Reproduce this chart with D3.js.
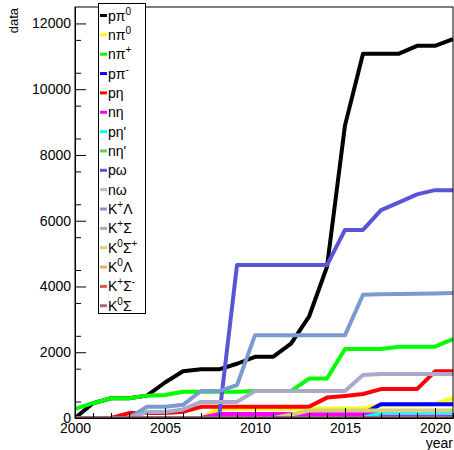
<!DOCTYPE html>
<head>
    <meta http-equiv="Content-Type" content="text/html; charset=UTF-8">
    <title>data vs year</title>
    <style type="text/css">
        html, body {
            margin: 0;
            padding: 0;
            background: #ffffff;
        }

        svg text {
            font-family: "Liberation Sans", Arial, Helvetica, sans-serif;
        }
    </style>
</head>
<body>
    <div id="chart"></div>
    <script src="https://cdn.jsdelivr.net/npm/d3@7/dist/d3.min.js" charset="utf-8"></script>
    <script>
        // years on the x axis
        var years = d3.range(2000, 2022);

        // legend labels, ^{..} marks a superscript
        var labels = ["pπ^{0}", "nπ^{0}", "nπ^{+}", "pπ^{-}", "pη", "nη", "pη'", "nη'",
            "pω", "nω", "K^{+}Λ", "K^{+}Σ", "K^{0}Σ^{+}", "K^{0}Λ", "K^{+}Σ^{-}", "K^{0}Σ"];

        var colors = ["#000000", "#ffff00", "#00ff00", "#0000ff", "#ff0000", "#ff00ff", "#00ffff", "#59d454",
            "#5954d8", "#c6b9ab", "#7d99d1", "#a9a9c9", "#d4d07a", "#dfb176", "#cf5e61", "#9a6f74"];

        // values per year, 2000 .. 2021
        var pPi0   = [0, 450, 600, 600, 680, 1080, 1420, 1480, 1480, 1650, 1860, 1860, 2260, 3080, 4600, 8900, 11080, 11080, 11080, 11320, 11320, 11520];
        var nPi0   = [0, 0, 0, 0, 0, 0, 0, 0, 280, 280, 280, 280, 280, 280, 280, 280, 290, 400, 410, 410, 420, 600];
        var nPiP   = [280, 450, 600, 600, 680, 700, 800, 800, 800, 800, 820, 820, 820, 1200, 1200, 2100, 2100, 2100, 2170, 2170, 2170, 2400];
        var pPiM   = [0, 0, 0, 0, 0, 0, 0, 0, 0, 0, 0, 0, 0, 0, 0, 0, 130, 420, 420, 420, 420, 420];
        var pEta   = [0, 0, 0, 150, 150, 150, 190, 340, 340, 340, 340, 340, 340, 340, 620, 670, 730, 880, 880, 880, 1420, 1420];
        var nEta   = [0, 0, 0, 0, 0, 0, 0, 0, 120, 120, 120, 120, 120, 120, 120, 120, 120, 120, 120, 120, 120, 120];
        var pEtaP  = [0, 0, 0, 0, 0, 0, 0, 0, 0, 0, 0, 0, 0, 0, 0, 0, 0, 150, 150, 150, 150, 150];
        var nEtaP  = [0, 0, 0, 0, 0, 0, 0, 0, 0, 0, 0, 0, 0, 0, 0, 0, 0, 0, 0, 0, 0, 0];
        var pOmega = [0, 0, 0, 0, 0, 0, 0, 0, 0, 4650, 4650, 4650, 4650, 4650, 4650, 5720, 5720, 6320, 6560, 6800, 6930, 6930];
        var nOmega = [0, 0, 0, 0, 0, 0, 0, 0, 0, 0, 0, 0, 0, 0, 0, 0, 0, 0, 0, 0, 0, 0];
        var kpLam  = [0, 0, 0, 0, 340, 340, 400, 820, 820, 1000, 2520, 2520, 2520, 2520, 2520, 2520, 3750, 3760, 3770, 3780, 3790, 3800];
        var kpSig  = [0, 0, 0, 0, 180, 180, 260, 490, 490, 490, 820, 820, 820, 820, 820, 820, 1310, 1340, 1340, 1340, 1340, 1340];
        var k0SigP = [0, 0, 0, 0, 0, 0, 0, 0, 0, 0, 0, 0, 100, 230, 230, 230, 230, 230, 230, 230, 230, 230];
        var k0Lam  = [0, 0, 0, 0, 0, 0, 0, 0, 0, 0, 0, 0, 0, 0, 0, 0, 0, 0, 0, 0, 0, 0];
        var kpSigM = [0, 0, 0, 0, 0, 0, 0, 0, 0, 0, 0, 0, 0, 0, 0, 0, 0, 0, 0, 0, 0, 0];
        var k0Sig  = [0, 0, 0, 0, 0, 0, 0, 0, 0, 0, 0, 0, 0, 0, 0, 0, 0, 0, 0, 0, 0, 0];

        var series = [pPi0, nPi0, nPiP, pPiM, pEta, nEta, pEtaP, nEtaP,
            pOmega, nOmega, kpLam, kpSig, k0SigP, k0Lam, kpSigM, k0Sig];

        var yMajor = [0, 2000, 4000, 6000, 8000, 10000, 12000];
        var xMajor = [2000, 2005, 2010, 2015, 2020];

        var width = 454, height = 450;
        // frame edges (note: "top" is taken by window.top)
        var fLeft = 75, fRight = 453, fTop = 7, fBottom = 418;

        var svg = d3.select("#chart").append("svg")
            .attr("width", width)
            .attr("height", height);

        var x = d3.scaleLinear().domain([2000, 2021]).range([fLeft, fRight]);
        var y = d3.scaleLinear().domain([0, 12500]).range([fBottom, fTop]);

        svg.append("clipPath").attr("id", "frame-clip")
            .append("rect")
            .attr("x", fLeft).attr("y", fTop)
            .attr("width", fRight - fLeft).attr("height", fBottom - fTop);

        // lines
        var line = d3.line()
            .x(function (d, i) { return x(years[i]); })
            .y(function (d) { return y(d); });

        svg.append("g")
            .attr("clip-path", "url(#frame-clip)")
            .selectAll("path.series")
            .data(series)
            .enter()
            .append("path")
            .attr("class", "series")
            .attr("fill", "none")
            .attr("stroke", function (d, i) { return colors[i]; })
            .attr("stroke-width", 4)
            .attr("stroke-linejoin", "round")
            .attr("d", line);

        // frame
        svg.append("rect")
            .attr("x", fLeft).attr("y", fTop)
            .attr("width", fRight - fLeft).attr("height", fBottom - fTop)
            .attr("fill", "none")
            .attr("stroke", "#000")
            .attr("stroke-width", 1);

        // y axis, ticks inside the frame
        svg.append("g")
            .attr("transform", "translate(" + fLeft + ",0)")
            .call(d3.axisLeft(y).tickValues(yMajor).tickSize(-11).tickSizeOuter(0).tickPadding(4).tickFormat(d3.format("d")));
        svg.append("g")
            .attr("transform", "translate(" + fLeft + ",0)")
            .call(d3.axisLeft(y).tickValues(d3.range(500, 12500, 1000)).tickSize(-6).tickSizeOuter(0).tickFormat(""));

        // x axis
        svg.append("g")
            .attr("transform", "translate(0," + fBottom + ")")
            .call(d3.axisBottom(x).tickValues(xMajor).tickSize(-10).tickSizeOuter(0).tickPadding(5).tickFormat(d3.format("d")));
        svg.append("g")
            .attr("transform", "translate(0," + fBottom + ")")
            .call(d3.axisBottom(x).tickValues(years.filter(function (d) { return d % 5 != 0; })).tickSize(-5).tickSizeOuter(0).tickFormat(""));

        svg.selectAll(".tick text")
            .attr("font-size", 14)
            .attr("font-family", "Liberation Sans, Arial, sans-serif")
            .attr("fill", "#000");
        svg.selectAll(".tick text").filter(function (d) { return d3.select(this).text() == ""; }).remove();
        svg.selectAll(".domain").attr("stroke", "#000");

        // axis titles
        svg.append("text")
            .attr("transform", "translate(18,8) rotate(-90)")
            .attr("text-anchor", "end")
            .attr("font-size", 13)
            .text("data");

        svg.append("text")
            .attr("x", fRight)
            .attr("y", 448)
            .attr("text-anchor", "end")
            .attr("font-size", 14)
            .text("year");

        // legend
        var legend = svg.append("g");
        legend.append("rect")
            .attr("x", 98.5).attr("y", 3.5)
            .attr("width", 47).attr("height", 310)
            .attr("fill", "#fff")
            .attr("stroke", "#000")
            .attr("stroke-width", 1);

        var entry = legend.selectAll("g.entry")
            .data(labels)
            .enter()
            .append("g")
            .attr("class", "entry")
            .attr("transform", function (d, i) { return "translate(0," + (15.5 + i * 19.35) + ")"; });

        entry.append("line")
            .attr("x1", 100).attr("x2", 107)
            .attr("stroke", function (d, i) { return colors[i]; })
            .attr("stroke-width", 3);

        entry.append("text")
            .attr("x", 108)
            .attr("y", 5)
            .attr("font-size", 14)
            .each(function (d) {
                var t = d3.select(this);
                var parts = d.split(/\^\{([^}]*)\}/);
                var shift = 0;
                parts.forEach(function (p, k) {
                    if (p == "") return;
                    if (k % 2 == 1) {
                        t.append("tspan").attr("font-size", 10).attr("dy", -6 - shift).text(p);
                        shift = -6;
                    } else {
                        t.append("tspan").attr("dy", -shift).text(p);
                        shift = 0;
                    }
                });
            });
    </script>
</body>
</html>
